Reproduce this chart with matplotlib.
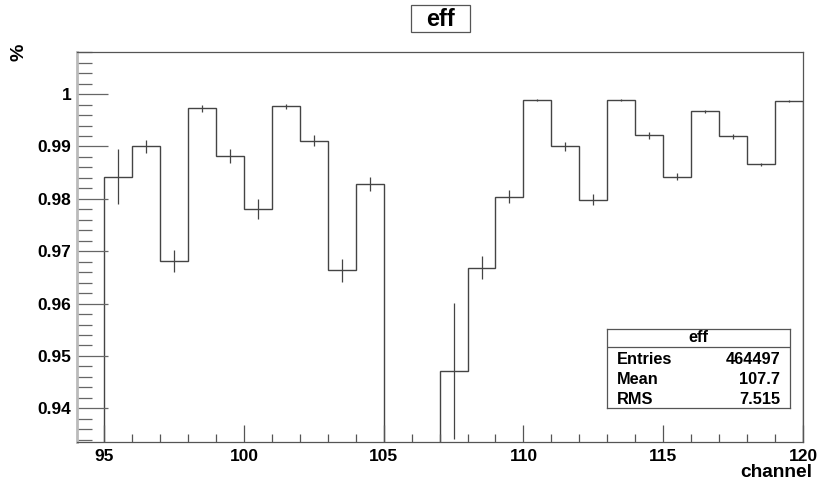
import numpy as np
import matplotlib.pyplot as plt
from matplotlib.ticker import MultipleLocator
from matplotlib.patches import Rectangle

plt.rcParams['font.family'] = ['Liberation Sans', 'DejaVu Sans']
plt.rcParams['font.weight'] = 'bold'

# bin edges (channels) and efficiency per bin
edges = np.arange(94, 121)
eff = [0.0, 0.98426, 0.9900, 0.9682, 0.99726, 0.98815, 0.97801, 0.99764, 0.99114,
       0.96635, 0.98285, 0.0, 0.0, 0.9471, 0.96686, 0.98044, 0.99885, 0.9900,
       0.97987, 0.99885, 0.9921, 0.98426, 0.99669, 0.99191, 0.98656, 0.99866]
err = [0.0, 0.0052, 0.00128, 0.0021, 0.00064, 0.0014, 0.0019, 0.0005, 0.00105,
       0.00217, 0.00134, 0.0, 0.0, 0.013, 0.00217, 0.0012, 0.0002, 0.0009,
       0.00105, 0.0002, 0.0007, 0.00067, 0.0003, 0.0004, 0.0003, 0.00015]
stats_labels = ['Entries', 'Mean', 'RMS']
stats_values = ['464497', '107.7', '7.515']

W, H = 821, 483
fig = plt.figure(figsize=(W / 100, H / 100), dpi=100)
ax = fig.add_axes([77 / W, 1 - 442 / H, (803 - 77) / W, (442 - 51.7) / H])

line_col = '#444444'
ax.stairs(eff, edges, color=line_col, lw=1.0)
centers = edges[:-1] + 0.5
eff_a = np.array(eff)
err_a = np.array(err)
mask = eff_a > 0
ax.errorbar(centers[mask], eff_a[mask], yerr=err_a[mask], fmt='none',
            ecolor=line_col, elinewidth=0.9, capsize=0)

ax.set_xlim(94.03, 120)
ax.set_ylim(0.93356, 1.0081)

ax.xaxis.set_major_locator(MultipleLocator(5))
ax.xaxis.set_minor_locator(MultipleLocator(1))
ax.yaxis.set_minor_locator(MultipleLocator(0.002))
ax.set_yticks(np.arange(0.94, 1.0001, 0.01))
ax.set_yticklabels(['0.94', '0.95', '0.96', '0.97', '0.98', '0.99', '1'])

ax.tick_params(axis='x', which='major', direction='in', length=12, width=0.9,
               color='#555555', labelsize=12.5, pad=5, top=False)
ax.tick_params(axis='x', which='minor', direction='in', length=6, width=0.9,
               color='#555555', top=False)
ax.tick_params(axis='y', which='major', direction='in', length=22, width=0.9,
               color='#666666', labelsize=12.5, pad=4, right=False)
ax.tick_params(axis='y', which='minor', direction='in', length=11, width=0.9,
               color='#666666', right=False)
for lab in ax.get_xticklabels() + ax.get_yticklabels():
    lab.set_fontweight('bold')

for side in ['top', 'right', 'bottom']:
    ax.spines[side].set_color('#555555')
    ax.spines[side].set_linewidth(0.9)
ax.spines['left'].set_color('#bbbbbb')
ax.spines['left'].set_linewidth(2.0)

fig.text(812 / W, 1 - 472.5 / H, 'channel', ha='right', va='center',
         fontsize=13.8, fontweight='bold')
fig.text(19 / W, 1 - 52.5 / H, '%', ha='center', va='center', rotation=90,
         fontsize=14, fontweight='bold')

# title box
fig.patches.append(Rectangle((411 / W, 1 - 32 / H), 59 / W, 27 / H,
                             transform=fig.transFigure, fc='white',
                             ec='#555555', lw=0.9))
fig.text(440.5 / W, 1 - 19 / H, 'eff', ha='center', va='center',
         fontsize=17, fontweight='bold')

# stats box
bx0, bx1, by0, by1 = 607, 790, 329, 408.3
sx = fig.add_axes([bx0 / W, 1 - by1 / H, (bx1 - bx0) / W, (by1 - by0) / H])
sx.set_xlim(0, 1)
sx.set_ylim(0, 1)
sx.set_xticks([])
sx.set_yticks([])
for s in sx.spines.values():
    s.set_color('#555555')
    s.set_linewidth(0.9)
hdr = 1 - (346.7 - by0) / (by1 - by0)
sx.axhline(hdr, color='#555555', lw=0.9)
sx.text(0.5, (1 + hdr) / 2, 'eff', ha='center', va='center', fontsize=11.8,
        fontweight='bold')
row_y = [360, 380, 399]
for lab, val, yy in zip(stats_labels, stats_values, row_y):
    yf = 1 - (yy - by0) / (by1 - by0)
    sx.text(0.055, yf, lab, ha='left', va='center', fontsize=11.8, fontweight='bold')
    sx.text(0.948, yf, val, ha='right', va='center', fontsize=11.8, fontweight='bold')

fig.savefig('out.png', dpi=100)
